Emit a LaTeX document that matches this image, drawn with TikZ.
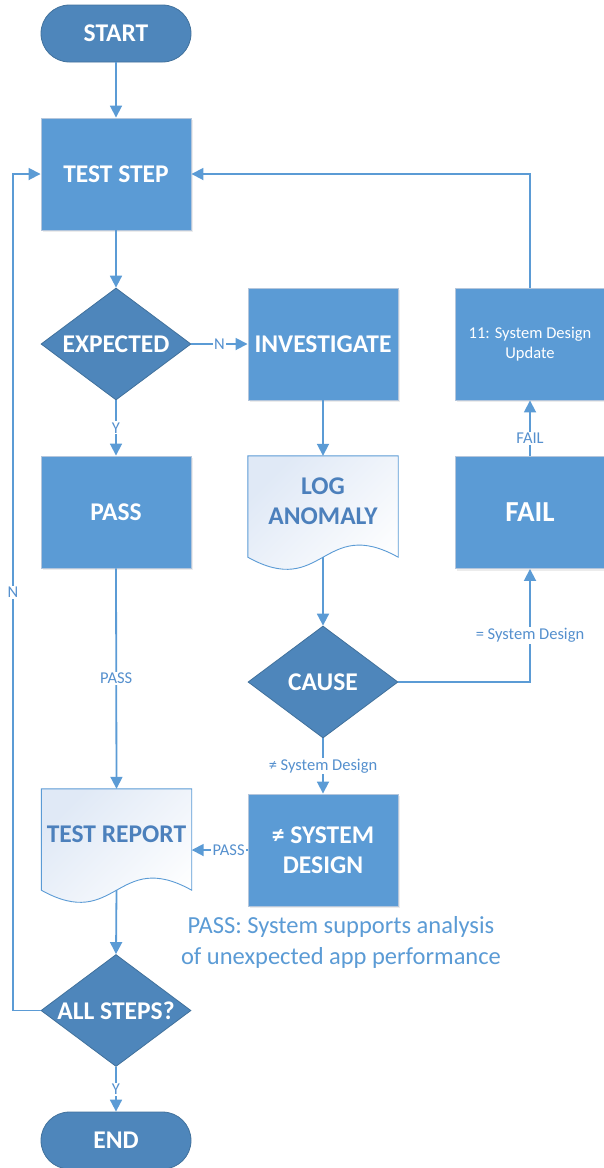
\documentclass[tikz,border=0pt]{standalone}
\usepackage{fontspec}
\setmainfont{Carlito}
\usetikzlibrary{arrows.meta,shadows,calc,shapes.geometric}

\definecolor{boxblue}{HTML}{5B9BD5}
\definecolor{deepblue}{HTML}{4E86BB}
\definecolor{deepedge}{HTML}{41719C}
\definecolor{boxedge}{HTML}{B4C6DC}
\definecolor{flowline}{HTML}{5B9BD5}
\definecolor{labelblue}{HTML}{5590CE}
\definecolor{doctext}{HTML}{4C80BC}
\definecolor{docshade}{HTML}{E0E9F6}

\pgfdeclarelayer{background}
\pgfsetlayers{background,main}

\tikzset{
  bigfont/.style={font=\fontsize{25.5}{30}\selectfont\bfseries},
  process/.style={rectangle, fill=boxblue, draw=boxedge, line width=0.9pt,
    minimum width=150pt, minimum height=112pt, inner sep=0pt, text=white,
    align=center, bigfont,
    drop shadow={shadow xshift=1.5pt, shadow yshift=-2pt, opacity=0.15}},
  terminal/.style={rectangle, rounded corners=28.5pt, fill=deepblue, draw=deepedge,
    line width=0.8pt, minimum width=150pt, minimum height=57pt, inner sep=0pt,
    text=white, bigfont},
  decision/.style={diamond, fill=deepblue, draw=deepedge, line width=0.8pt,
    minimum width=150pt, minimum height=112pt, inner sep=0pt, aspect=1.34,
    text=white, bigfont},
  docframe/.style={rectangle, minimum width=150pt, minimum height=101pt,
    inner sep=0pt, text=doctext, align=center, bigfont, text depth=10pt},
  docshape/.style={draw=flowline, line width=0.9pt,
    top color=docshade, bottom color=white, shading angle=45},
  flow/.style={draw=flowline, line width=1.8pt, -{Triangle[length=12pt,width=12pt]}},
  edgelabel/.style={fill=white, text=labelblue, font=\fontsize{16.5}{19}\selectfont,
    inner sep=1.2pt},
}

\begin{document}
\begin{tikzpicture}[x=1pt, y=-1pt]
\useasboundingbox (0,0) rectangle (604,1168);

% main column
\node[terminal] (start) at (116,33.5) {START};
\node[process]  (test)  at (116,174)  {TEST STEP};
\node[decision] (exp)   at (116,344)  {EXPECTED};
\node[process]  (pass)  at (116,512)  {PASS};
\node[docframe] (report) at (116.5,839.5) {TEST REPORT};
\node[decision] (allst) at (116,1010.5) {ALL STEPS?};
\node[terminal] (end)   at (116,1140.5) {END};

% investigation column
\node[process]  (inv)   at (323,344)  {INVESTIGATE};
\node[docframe] (log)   at (323,506.5) {LOG\\ANOMALY};
\node[decision] (cause) at (323,682)  {CAUSE};
\node[process]  (nsd)   at (323,850)  {≠ SYSTEM\\DESIGN};

% failure column
\node[process, font=\fontsize{16.5}{20}\selectfont] (sdu) at (530,344)
  {11: System Design\\Update};
\node[process, font=\fontsize{29}{33}\selectfont\bfseries] (fail) at (530,512.5) {FAIL};

% outcome note
\node[text=boxblue, font=\fontsize{24.5}{31}\selectfont, align=center] (note)
  at (341,942.5) {PASS: System supports analysis\\of unexpected app performance};

% document outlines with wavy bottoms
\begin{pgfonlayer}{background}
\foreach \d in {log,report}{
  \path[docshape] (\d.south west) -- (\d.north west) -- (\d.north east)
    -- (\d.south east)
    .. controls ($(\d.south)+(0,-42)$) and ($(\d.south)+(0,42)$) .. (\d.south west)
    -- cycle;
}
\end{pgfonlayer}

% rail for the return loop
\coordinate (leftrail) at (13,0);

% connectors
\draw[flow] (start) -- (test);
\draw[flow] (test) -- (exp);
\draw[flow] (exp.east) -- node[edgelabel] {N} (inv.west);
\draw[flow] (exp.south) -- node[edgelabel] {Y} (pass.north);
\draw[flow] (pass.south) -- node[edgelabel] {PASS} (report.north);
\draw[flow] (inv.south) -- (log.north);
\draw[flow] (log.south) -- (cause.north);
\draw[flow] (cause.east) -- (cause.east -| fail.south)
  -- node[edgelabel, pos=0.41] {= System Design} (fail.south);
\draw[flow] (fail.north) -- node[edgelabel, pos=0.32] {FAIL} (sdu.south);
\draw[flow] (sdu.north) -- (test.east -| sdu.north) -- (test.east);
\draw[flow] (cause.south) -- node[edgelabel] {≠ System Design} (nsd.north);
\draw[flow] (nsd.west) -- node[edgelabel, pos=0.34] {PASS} (nsd.west -| report.east);
\draw[flow] (report.south) -- (allst.north);
\draw[flow] (allst.south) -- node[edgelabel] {Y} (end.north);
\draw[flow] (allst.west) -- (allst.west -| leftrail)
  -- node[edgelabel] {N} (test.west -| leftrail) -- (test.west);
\end{tikzpicture}
\end{document}
